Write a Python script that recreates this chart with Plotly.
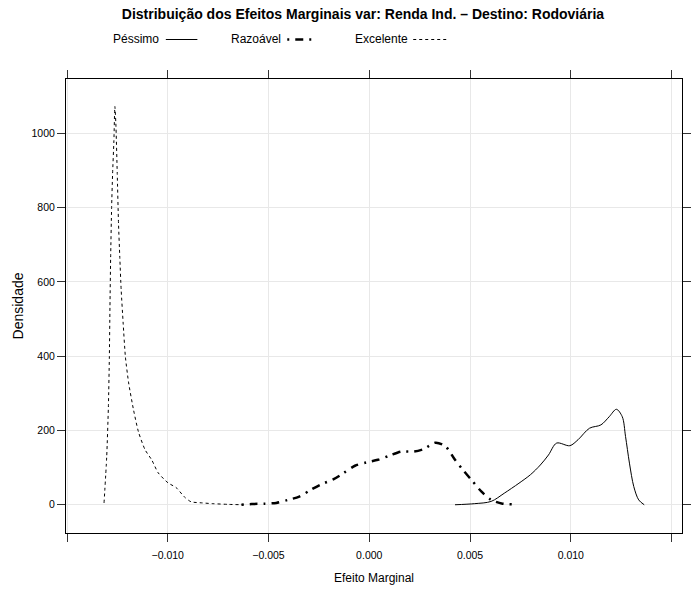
import plotly.graph_objects as go

# ---------------- data ----------------
pessimo_x = [0.004255, 0.005232, 0.006047, 0.006697, 0.007429, 0.008001, 0.008489,
             0.008894, 0.009299, 0.009954, 0.010359, 0.010930, 0.011497, 0.011907,
             0.012263, 0.012556, 0.012717, 0.012912, 0.013127, 0.013372, 0.013645]
pessimo_y = [0, 3, 9, 31, 58, 81, 107, 134, 166, 159, 175, 206, 215, 237, 257, 237,
             184, 112, 49, 13, 0]

razoavel_x = [-0.006340, -0.005837, -0.005183, -0.004617, -0.004045, -0.003474,
              -0.002908, -0.002419, -0.001765, -0.001277, -0.000710, -0.000139,
              0.000432, 0.000999, 0.001570, 0.002219, 0.002708, 0.003279, 0.003767,
              0.004255, 0.004661, 0.005071, 0.005559, 0.006047, 0.006614, 0.007102]
razoavel_y = [0, 2, 3, 5, 13, 22, 40, 54, 69, 85, 105, 114, 121, 132, 143, 143, 150,
              167, 158, 121, 93, 67, 36, 13, 3, 1]

excelente_x = [-0.013162, -0.013030, -0.012947, -0.012898, -0.012869, -0.012834,
               -0.012786, -0.012737, -0.012673, -0.012625, -0.012576, -0.012507,
               -0.012444, -0.012380, -0.012312, -0.012214, -0.012102, -0.011941,
               -0.011697, -0.011453, -0.011126, -0.010798, -0.010476, -0.009988,
               -0.009578, -0.009173, -0.008845, -0.008279, -0.007791, -0.006975,
               -0.006243]
excelente_y = [5, 129, 263, 398, 532, 666, 800, 892, 980, 1072, 1026, 892, 757, 666,
               578, 489, 398, 328, 255, 196, 148, 121, 86, 59, 46, 21, 8, 5, 3, 1, 0]

series_names = ["Péssimo", "Razoável", "Excelente"]

x_tickvals = [-0.015, -0.010, -0.005, 0.000, 0.005, 0.010, 0.015]
x_ticktext = ["", "\u22120.010", "\u22120.005", "0.000", "0.005", "0.010", ""]
y_tickvals = [0, 200, 400, 600, 800, 1000]
y_ticktext = ["0", "200", "400", "600", "800", "1000"]

title_text = "Distribuição dos Efeitos Marginais var: Renda Ind. – Destino: Rodoviária"
x_title = "Efeito Marginal"
y_title = "Densidade"

# ---------------- layout helpers ----------------
W, H = 693, 595
ML, MR, MT, MB = 66, 2, 79, 62
PW, PH = W - ML - MR, H - MT - MB

def px2paper_x(px):
    return (px - ML) / PW

def px2paper_y(py):
    return (H - MB - py) / PH

FONT = "Liberation Sans, Arial, Helvetica, sans-serif"

styles = [
    dict(color="black", width=1, dash="solid"),
    dict(color="black", width=2.5, dash="2px,6px,8px,6px"),
    dict(color="black", width=1, dash="3px,3px"),
]
smoothings = [0.9, 0.8, 0.6]

fig = go.Figure()
for name, xs, ys, st, sm in zip(series_names,
                                [pessimo_x, razoavel_x, excelente_x],
                                [pessimo_y, razoavel_y, excelente_y],
                                styles, smoothings):
    fig.add_trace(go.Scatter(x=xs, y=ys, mode="lines", name=name,
                             line=dict(shape="spline", smoothing=sm, **st),
                             showlegend=False, hoverinfo="x+y+name"))

# ---------------- custom legend (text then line sample, like lattice) ----------------
leg_y = px2paper_y(39.5)
legend_items = [
    (series_names[0], 111.7, (167.3, 199.3), styles[0]),
    (series_names[1], 231.7, (290.5, 316.5), styles[1]),
    (series_names[2], 356.7, (418.3, 452.0), styles[2]),
]
annotations = []
shapes = []
for name, tx, (l0, l1), st in legend_items:
    annotations.append(dict(text=name, x=px2paper_x(tx), y=leg_y, xref="paper",
                            yref="paper", xanchor="left", yanchor="middle",
                            showarrow=False, font=dict(family=FONT, size=12, color="black")))
    shapes.append(dict(type="line", xref="paper", yref="paper",
                       x0=px2paper_x(l0), x1=px2paper_x(l1), y0=leg_y, y1=leg_y,
                       line=dict(color=st["color"], width=st["width"], dash=st["dash"])))

axis_common = dict(
    showline=True, linecolor="black", linewidth=1, mirror="ticks",
    ticks="outside", ticklen=8, tickwidth=1, tickcolor="#333333",
    showgrid=True, gridcolor="#e8e8e8", gridwidth=1, zeroline=False,
    tickfont=dict(family=FONT, size=10.5, color="black"),
)

fig.update_layout(
    width=W, height=H,
    margin=dict(l=ML, r=MR, t=MT, b=MB, pad=0),
    paper_bgcolor="white", plot_bgcolor="white",
    title=dict(text="<b>" + title_text + "</b>", x=363 / W, xref="container",
               y=1 - 14.5 / H, yref="container", xanchor="center", yanchor="middle",
               font=dict(family=FONT, size=14, color="black")),
    xaxis=dict(range=[-0.01505, 0.01552], tickvals=x_tickvals, ticktext=x_ticktext,
               ticklabelstandoff=4,
               title=dict(text=x_title, standoff=14,
                          font=dict(family=FONT, size=12, color="black")),
               **axis_common),
    yaxis=dict(range=[-76, 1146], tickvals=y_tickvals, ticktext=y_ticktext,
               title=dict(text=y_title, standoff=4,
                          font=dict(family=FONT, size=14, color="black")),
               **axis_common),
    annotations=annotations, shapes=shapes,
    showlegend=False,
)

fig.write_html("out.html")
